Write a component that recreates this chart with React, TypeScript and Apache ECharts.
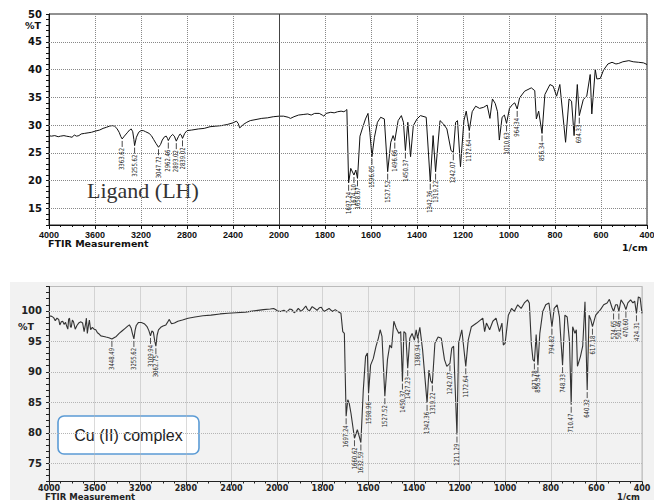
import React, { useEffect, useRef } from 'react';
import * as echarts from 'echarts';

// ---------- data ----------
const xTickLabels = [4000, 3600, 3200, 2800, 2400, 2000, 1800, 1600, 1400, 1200, 1000, 800, 600, 400];
const yTicksLigand = [15, 20, 25, 30, 35, 40, 45, 50];
const yTicksComplex = [75, 80, 85, 90, 95, 100];

const ligandSpectrum: [number, number][] = [
  [4000, 28.1], [3980, 28.0], [3950, 28.1], [3920, 27.9], [3900, 28.0], [3870, 28.1], [3850, 28.0],
  [3820, 27.9], [3800, 27.8], [3780, 28.2], [3760, 28.0], [3740, 28.1], [3720, 28.4], [3690, 28.5],
  [3660, 28.6], [3630, 28.7], [3600, 28.9], [3560, 29.1], [3530, 29.4], [3500, 29.6], [3475, 29.8],
  [3450, 29.9], [3430, 29.8], [3410, 29.4], [3390, 28.7], [3375, 27.9], [3363.62, 27.5], [3345, 28.0],
  [3320, 28.6], [3300, 29.1], [3285, 29.3], [3272, 28.8], [3262, 27.4], [3255.62, 26.3], [3240, 27.8],
  [3220, 28.7], [3200, 29.0], [3180, 29.0], [3160, 28.8], [3130, 28.5], [3110, 28.1], [3090, 27.4],
  [3070, 26.7], [3047.72, 26.0], [3030, 26.5], [3015, 27.3], [2995, 27.9], [2980, 28.0], [2970, 27.6],
  [2962.46, 27.2], [2945, 27.9], [2925, 28.3], [2910, 28.0], [2893.02, 27.1], [2875, 27.9], [2860, 28.4],
  [2850, 28.2], [2839.02, 27.6], [2820, 28.5], [2800, 29.0], [2760, 29.1], [2700, 29.3], [2650, 29.4],
  [2600, 29.7], [2550, 29.8], [2500, 29.9], [2450, 30.1], [2400, 30.4], [2370, 30.7], [2355, 30.3],
  [2342, 29.5], [2330, 29.7], [2310, 30.1], [2280, 30.5], [2250, 30.8], [2200, 31.0], [2150, 31.2],
  [2100, 31.3], [2050, 31.5], [2000, 31.6],
  [1980, 31.6], [1960, 31.4], [1950, 31.2], [1935, 31.5], [1915, 31.8], [1895, 31.9], [1875, 32.0],
  [1860, 31.8], [1845, 32.1], [1825, 32.1], [1812, 31.8], [1805, 31.6], [1795, 32.1], [1775, 32.3],
  [1760, 32.2], [1745, 32.4], [1730, 32.5], [1718, 32.4], [1710, 32.6], [1705, 32.8], [1697.24, 19.6],
  [1688, 22.2], [1674.10, 21.0], [1666, 21.9], [1658.67, 20.4], [1648, 28.0], [1636, 29.6], [1624, 31.1],
  [1613, 32.1], [1605, 28.7], [1596.05, 24.3], [1585, 27.8], [1572, 30.5], [1558, 31.4], [1542, 31.1],
  [1527.52, 21.6], [1514, 26.9], [1504, 28.1], [1496.66, 27.2], [1482, 30.8], [1468, 31.7], [1459, 30.5],
  [1450.37, 25.4], [1440, 30.5], [1428, 24.3], [1416, 29.9], [1400, 31.1], [1385, 31.7], [1360, 31.4],
  [1342.36, 19.8], [1330, 28.1], [1319.22, 21.6], [1300, 30.8], [1285, 30.2], [1270, 29.3], [1252, 25.4],
  [1242.07, 25.1], [1232, 30.5], [1224, 30.8], [1211, 22.5], [1196, 30.8], [1186, 32.5], [1172.64, 29.0],
  [1160, 32.4], [1145, 33.4], [1128, 33.0], [1110, 33.2], [1095, 33.6], [1083, 31.2], [1072, 34.7],
  [1060, 33.9], [1050, 32.4], [1042, 27.3], [1030, 31.4], [1020, 31.8], [1010.63, 30.3], [998, 33.0],
  [985, 33.7], [975, 34.0], [964.34, 32.9], [954, 34.9], [932, 36.1], [903, 36.7], [888, 36.2], [881, 31.1],
  [871, 32.5], [856.34, 28.5], [844, 35.5], [822, 37.3], [808, 37.0], [793, 35.2], [779, 37.3], [754, 26.9],
  [739, 34.7], [728, 34.3], [717, 28.1], [703, 37.3], [694.33, 31.7], [677, 34.6], [662, 35.2], [647, 39.1],
  [640, 32.0], [625, 40.0], [618, 38.3], [603, 38.4], [589, 39.9], [570, 41.0], [552, 41.3], [535, 41.0],
  [523, 41.1], [505, 41.4], [479, 41.6], [460, 41.4], [436, 41.3], [415, 41.2], [400, 40.9],
];

const complexSpectrum: [number, number][] = [
  [4000, 99.2], [3975, 99.1], [3960, 98.9], [3945, 98.4], [3930, 98.8], [3915, 98.6], [3905, 97.7],
  [3892, 98.2], [3880, 98.3], [3868, 97.8], [3855, 98.1], [3845, 97.5], [3835, 97.0], [3828, 98.6],
  [3820, 98.8], [3812, 97.4], [3805, 97.3], [3795, 98.5], [3785, 98.2], [3770, 97.0], [3755, 97.6],
  [3740, 98.0], [3720, 98.2], [3705, 98.0], [3692, 96.6], [3680, 97.8], [3672, 98.8], [3664, 96.3],
  [3655, 97.5], [3646, 98.5], [3635, 96.9], [3620, 97.3], [3605, 97.0], [3590, 96.9], [3575, 96.4],
  [3560, 96.2], [3545, 95.9], [3520, 95.8], [3500, 95.7], [3475, 95.6], [3448.49, 95.4], [3430, 95.6],
  [3410, 95.8], [3385, 96.3], [3360, 96.7], [3335, 97.1], [3310, 97.5], [3295, 97.7], [3280, 97.2],
  [3270, 96.4], [3255.62, 95.4], [3245, 96.8], [3235, 97.6], [3215, 98.1], [3190, 98.1], [3165, 97.9],
  [3140, 97.4], [3125, 96.8], [3109.94, 95.9], [3098, 96.7], [3085, 96.5], [3072, 95.0], [3062.75, 94.2],
  [3052, 96.0], [3040, 96.9], [3020, 97.3], [3000, 97.5], [2975, 97.7], [2955, 98.3], [2945, 98.6],
  [2935, 98.2], [2925, 97.9], [2900, 98.0], [2870, 98.3], [2830, 98.5], [2780, 98.8], [2720, 99.0],
  [2650, 99.2], [2580, 99.3], [2500, 99.5], [2430, 99.6], [2360, 99.7], [2280, 99.8], [2200, 100.0],
  [2120, 100.2], [2060, 100.3], [2030, 100.4], [2010, 100.2], [2000, 100.0],
  [1985, 99.9], [1970, 100.1], [1958, 99.8], [1945, 100.3], [1935, 100.2], [1925, 99.7], [1915, 100.0],
  [1907, 100.4], [1895, 99.9], [1885, 100.3], [1874, 100.8], [1866, 100.2], [1858, 100.0], [1846, 100.7],
  [1835, 100.4], [1825, 100.1], [1815, 100.5], [1806, 100.6], [1795, 99.9], [1785, 100.1], [1772, 100.4],
  [1758, 99.9], [1745, 100.2], [1730, 99.8], [1720, 99.6], [1712, 96.6], [1705, 96.3], [1697.24, 82.7],
  [1690, 85.4], [1684, 84.9], [1676, 83.2], [1660.62, 79.1], [1648, 80.5], [1632.59, 78.4], [1622, 87.0],
  [1612, 92.5], [1604, 93.1], [1598.96, 86.5], [1590, 91.1], [1578, 92.2], [1566, 94.2], [1556, 95.5],
  [1548, 96.9], [1540, 95.8], [1527.52, 86.0], [1516, 92.0], [1506, 94.4], [1498, 93.9], [1488, 98.3],
  [1478, 97.2], [1466, 96.3], [1458, 96.6], [1450.37, 88.4], [1444, 96.6], [1436, 96.3], [1427.23, 90.6],
  [1418, 95.5], [1408, 96.3], [1398, 95.2], [1390, 96.9], [1384, 95.5], [1380.94, 96.0], [1374, 97.3],
  [1362, 93.6], [1342.36, 84.9], [1334, 90.3], [1326, 88.5], [1319.22, 88.1], [1308, 94.7], [1294, 95.7],
  [1280, 95.5], [1266, 92.0], [1256, 90.9], [1242.07, 91.4], [1234, 93.9], [1226, 94.2], [1211.29, 79.7],
  [1204, 94.7], [1190, 96.9], [1172.64, 90.9], [1162, 95.2], [1148, 97.4], [1125, 98.0], [1098, 98.8],
  [1090, 96.6], [1082, 98.0], [1068, 96.9], [1054, 98.3], [1040, 98.8], [1025, 96.6], [1014, 98.0],
  [1008, 94.4], [1000, 94.7], [986, 99.3], [972, 100.4], [960, 99.9], [945, 101.0], [930, 100.4],
  [916, 101.3], [902, 101.8], [894, 101.3], [885, 94.5], [878, 92.0], [871.78, 91.7], [864, 96.1],
  [856.34, 91.1], [848, 96.3], [835, 99.9], [822, 101.0], [808, 101.3], [794.82, 97.4], [785, 100.4],
  [772, 101.0], [762, 99.0], [748.33, 91.1], [738, 99.3], [728, 99.0], [718, 95.0], [710.47, 84.6],
  [704, 97.4], [694, 96.3], [688, 96.9], [683, 90.9], [670, 92.5], [660, 94.2], [650, 101.5],
  [640.32, 87.0], [632, 99.3], [624, 98.5], [617.18, 97.4], [603, 99.3], [582, 100.2], [568, 101.0],
  [553, 101.3], [543, 101.9], [532, 100.6], [524.65, 99.9], [516, 101.0], [508, 101.0], [501.46, 99.9],
  [492, 101.8], [478, 101.0], [470.60, 100.2], [462, 101.3], [450, 101.8], [440, 101.3], [432, 101.6],
  [424.31, 99.6], [416, 102.3], [408, 102.1], [400, 99.6],
];

const ligandPeaks = [
  '3363.62', '3255.62', '3047.72', '2962.46', '2893.02', '2839.02',
  '1697.24', '1674.10', '1658.67', '1596.05', '1527.52', '1496.66', '1450.37',
  '1342.36', '1319.22', '1242.07', '1172.64', '1010.63', '964.34', '856.34', '694.33',
];

const complexPeaks = [
  '3448.49', '3255.62', '3109.94', '3062.75',
  '1697.24', '1660.62', '1632.59', '1598.96', '1527.52', '1450.37', '1427.23', '1380.94',
  '1342.36', '1319.22', '1242.07', '1211.29', '1172.64', '871.78', '856.34', '794.82',
  '748.33', '710.47', '640.32', '617.18', '524.65', '501.46', '470.60', '424.31',
];

// ---------- helpers ----------
// Instrument scale: 4000-2000 cm-1 is compressed by a factor 2 compared with 2000-400.
const toPos = (wn: number) => (wn >= 2000 ? (4000 - wn) / 2 : 1000 + (2000 - wn));
const posToWn = (p: number) => (p <= 1000 ? 4000 - 2 * p : 2000 - (p - 1000));

const AX_FONT = '"DejaVu Sans", "Liberation Sans", sans-serif';
const PEAK_FONT = '"Liberation Sans Narrow", "DejaVu Sans Condensed", "Liberation Sans", sans-serif';

function peakSeries(peaks: string[], spectrum: [number, number][], idx: number, color: string) {
  const data = peaks.map((p) => {
    const wn = parseFloat(p);
    const pt = spectrum.find((d) => Math.abs(d[0] - wn) < 0.01);
    return [toPos(wn), pt ? pt[1] : 0];
  });
  return {
    type: 'custom',
    xAxisIndex: idx,
    yAxisIndex: idx,
    silent: true,
    clip: false,
    z: 5,
    data,
    encode: { x: 0, y: 1 },
    renderItem: (params: any, api: any) => {
      const c = api.coord([api.value(0), api.value(1)]);
      return {
        type: 'group',
        children: [
          {
            type: 'line',
            shape: { x1: c[0], y1: c[1] + 2, x2: c[0], y2: c[1] + 8 },
            style: { stroke: color, lineWidth: 0.8 },
          },
          {
            type: 'text',
            x: c[0],
            y: c[1] + 9,
            rotation: Math.PI / 2,
            scaleX: 0.85,
            style: {
              text: peaks[params.dataIndex],
              fontSize: 7,
              fontFamily: PEAK_FONT,
              fill: color,
              align: 'right',
              verticalAlign: 'middle',
            },
          },
        ],
      };
    },
  };
}

function makeX(gridIndex: number, color: string, gridColor: string, fontFamily: string, fontSize: number, margin: number) {
  return {
    type: 'value',
    gridIndex,
    min: 0,
    max: 2600,
    interval: 200,
    axisLine: { show: true, onZero: false, lineStyle: { color, width: 1 } },
    axisTick: { show: true, length: 4, lineStyle: { color } },
    minorTick: { show: true, splitNumber: 4, length: 2, lineStyle: { color } },
    axisLabel: {
      formatter: (v: number) => {
        const wn = posToWn(v);
        return xTickLabels.includes(wn) ? String(wn) : '';
      },
      fontFamily,
      fontSize,
      fontWeight: 'bold',
      color,
      margin,
      showMinLabel: true,
      showMaxLabel: true,
    },
    splitLine: { show: true, lineStyle: { type: 'dotted', color: gridColor, width: 1 } },
  };
}

function makeY(gridIndex: number, min: number, max: number, ticks: number[], color: string, fontSize: number) {
  return {
    type: 'value',
    gridIndex,
    min,
    max,
    interval: 1,
    axisLine: { show: true, onZero: false, lineStyle: { color, width: 1 } },
    axisTick: { show: true, length: 3, lineStyle: { color } },
    axisLabel: {
      formatter: (v: number) => (ticks.includes(v) ? String(v) : ''),
      fontFamily: AX_FONT,
      fontSize,
      fontWeight: 'bold',
      color,
      margin: 7,
    },
    splitLine: { show: false },
  };
}

function gridLines(ticks: number[], max: number, color: string, extra: any[] = []) {
  return {
    silent: true,
    symbol: 'none',
    label: { show: false },
    lineStyle: { type: 'dotted', color, width: 1 },
    data: [...ticks.filter((v) => v < max).map((v) => ({ yAxis: v })), ...extra],
  };
}

export default function App() {
  const ref = useRef<HTMLDivElement>(null);

  useEffect(() => {
    document.body.style.margin = '0';
    if (!ref.current) return;
    const chart = echarts.init(ref.current, null, { renderer: 'svg' });

    const option: any = {
      animation: false,
      backgroundColor: '#ffffff',
      grid: [
        { left: 49, top: 14, width: 598, height: 211, show: true, borderColor: '#222', borderWidth: 1, outerBoundsMode: 'none', containLabel: false },
        { left: 49, top: 286.5, width: 593, height: 195, show: true, borderColor: '#bbb', borderWidth: 1, outerBoundsMode: 'none', containLabel: false },
      ],
      xAxis: [
        makeX(0, '#111', '#888', '"Liberation Sans", Arial, sans-serif', 9, 5),
        makeX(1, '#222', '#b5b5b5', AX_FONT, 8, 2.5),
      ],
      yAxis: [
        makeY(0, 12, 50, yTicksLigand, '#111', 10),
        makeY(1, 72, 104, yTicksComplex, '#222', 10),
      ],
      series: [
        {
          type: 'line',
          xAxisIndex: 0,
          yAxisIndex: 0,
          symbol: 'none',
          data: ligandSpectrum.map(([wn, v]) => [toPos(wn), v]),
          lineStyle: { color: '#111', width: 1 },
          z: 3,
          markLine: gridLines(yTicksLigand, 50, '#888', [
            { xAxis: toPos(2000), lineStyle: { type: 'solid', color: '#444', width: 1 } },
          ]),
        },
        {
          type: 'line',
          xAxisIndex: 1,
          yAxisIndex: 1,
          symbol: 'none',
          data: complexSpectrum.map(([wn, v]) => [toPos(wn), v]),
          lineStyle: { color: '#333', width: 1.1 },
          z: 3,
          markLine: gridLines(yTicksComplex, 104, '#b5b5b5'),
        },
        peakSeries(ligandPeaks, ligandSpectrum, 0, '#1a1a1a'),
        peakSeries(complexPeaks, complexSpectrum, 1, '#2a2a2a'),
      ],
      graphic: [
        { type: 'rect', z: -100, shape: { x: 10, y: 282, width: 644, height: 218 }, style: { fill: '#f2f2f2' }, silent: true },
        { type: 'text', x: 87, y: 190, style: { text: 'Ligand (LH)', fontSize: 22, fontFamily: '"Liberation Serif", "DejaVu Serif", serif', fill: '#333', verticalAlign: 'middle' } },
        { type: 'text', x: 25, y: 25.5, style: { text: '%T', fontSize: 9.5, fontWeight: 'bold', fontFamily: AX_FONT, fill: '#111', verticalAlign: 'middle' } },
        { type: 'text', x: 48, y: 243.5, style: { text: 'FTIR Measurement', fontSize: 9.5, fontWeight: 'bold', fontFamily: AX_FONT, fill: '#111', verticalAlign: 'middle' } },
        { type: 'text', x: 622, y: 247, style: { text: '1/cm', fontSize: 9.5, fontWeight: 'bold', fontFamily: AX_FONT, fill: '#111', verticalAlign: 'middle' } },
        { type: 'text', x: 18, y: 326.5, style: { text: '%T', fontSize: 9.5, fontWeight: 'bold', fontFamily: AX_FONT, fill: '#222', verticalAlign: 'middle' } },
        { type: 'text', x: 45, y: 496.5, style: { text: 'FTIR Measurement', fontSize: 8.5, fontWeight: 'bold', fontFamily: AX_FONT, fill: '#222', verticalAlign: 'middle' } },
        { type: 'text', x: 617, y: 496.5, style: { text: '1/cm', fontSize: 8.5, fontWeight: 'bold', fontFamily: AX_FONT, fill: '#222', verticalAlign: 'middle' } },
        { type: 'rect', shape: { x: 58, y: 416, width: 141, height: 38, r: 6 }, style: { fill: '#ffffff', stroke: '#5b9bd5', lineWidth: 1.6 } },
        { type: 'text', x: 128.5, y: 435, style: { text: 'Cu (II) complex', fontSize: 16, fontFamily: '"Liberation Sans", Arial, sans-serif', fill: '#222', align: 'center', verticalAlign: 'middle' } },
      ],
    };

    chart.setOption(option);
    return () => chart.dispose();
  }, []);

  return <div ref={ref} style={{ width: 654, height: 500 }} />;
}
